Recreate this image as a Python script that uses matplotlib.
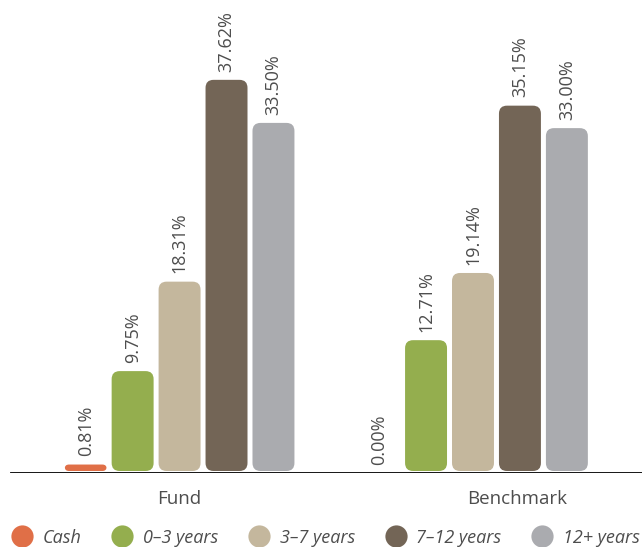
import matplotlib.pyplot as plt
import numpy as np
from matplotlib.patches import FancyBboxPatch
from matplotlib.lines import Line2D

# data
groups = ['Fund', 'Benchmark']
buckets = ['Cash', '0–3 years', '3–7 years', '7–12 years', '12+ years']
fund = [0.81, 9.75, 18.31, 37.62, 33.50]
benchmark = [0.00, 12.71, 19.14, 35.15, 33.00]
colors = ['#E06F47', '#94AE4E', '#C4B79D', '#736556', '#AAABAF']

plt.rcParams['font.family'] = ['Open Sans', 'DejaVu Sans']
text_col = '#4d4d4d'

W, H = 6.42, 5.47
fig = plt.figure(figsize=(W, H), dpi=100)
ax = fig.add_axes([0, 74 / 547, 1, 473 / 547])

width = 0.143
step = 0.16
ax.set_xlim(-0.612, 1.576)
ax.set_ylim(0, 45.26)

# px per data unit, used to keep the corner rounding circular
px_x = W * 100 * ax.get_position().width / (1.576 + 0.612)
px_y = H * 100 * ax.get_position().height / 45.26
aspect = px_x / px_y

for g, vals in enumerate([fund, benchmark]):
    for i, v in enumerate(vals):
        x = g + (i - 2) * step
        h_px = v * px_y
        r_px = min(8, h_px / 2)
        if v > 0:
            box = FancyBboxPatch((x - width / 2, 2 / px_y), width, v - 2 / px_y,
                                 boxstyle=f'round,pad=0,rounding_size={r_px / px_x}',
                                 mutation_aspect=aspect,
                                 fc=colors[i], ec='none')
            ax.add_patch(box)
        ax.annotate(f'{v:.2f}%', (x, v), xytext=(0, 6), textcoords='offset points',
                    rotation=90, ha='center', va='bottom', fontsize=13, color=text_col)

ax.axhline(0, xmin=11 / 642, color='black', lw=2)
for s in ax.spines.values():
    s.set_visible(False)
ax.set_yticks([])
ax.set_xticks([0, 1.15])
ax.set_xticklabels(groups, fontsize=13.5, color=text_col)
ax.tick_params(axis='x', length=0, pad=12)

handles = [Line2D([], [], ls='none', marker='o', ms=16, mfc=c, mec='none') for c in colors]
fig.legend(handles, buckets, loc='center left', bbox_to_anchor=(13 / 642, 0.017),
           ncol=5, frameon=False, borderpad=0, borderaxespad=0,
           handlelength=1.0, handletextpad=0.65, columnspacing=1.75,
           prop={'style': 'italic', 'size': 13}, labelcolor=text_col)

fig.savefig('out.png', dpi=100)
